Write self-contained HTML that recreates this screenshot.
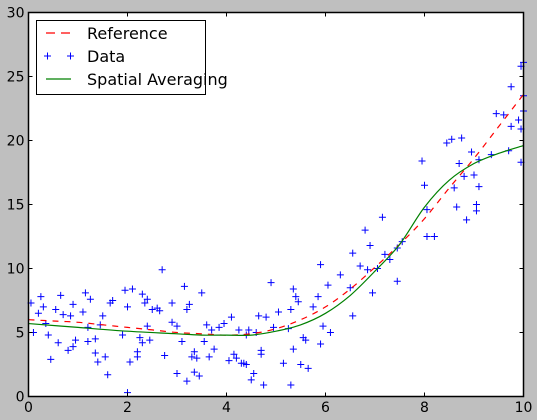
<!DOCTYPE html>
<html><head><meta charset="utf-8"><style>
body{margin:0;background:#bfbfbf;}
svg{display:block;font-family:"DejaVu Sans","Liberation Sans",sans-serif;}
</style></head><body>
<svg id="chart" width="537" height="420" viewBox="0 0 537 420"></svg>
<script>
const dataX=[0.05,0.1,0.2,0.25,0.3,0.35,0.4,0.45,0.55,0.6,0.65,0.7,0.8,0.85,0.9,0.9,0.95,1.1,1.15,1.2,1.2,1.25,1.35,1.35,1.4,1.45,1.5,1.55,1.6,1.65,1.7,1.9,1.95,2.0,2.05,2.0,2.1,2.2,2.2,2.25,2.3,2.3,2.35,2.4,2.4,2.45,2.5,2.6,2.65,2.75,2.7,2.9,2.9,3.0,3.0,3.1,3.15,3.2,3.2,3.25,3.3,3.35,3.35,3.4,3.45,3.5,3.55,3.6,3.65,3.7,3.75,3.85,3.95,4.05,4.1,4.15,4.2,4.25,4.3,4.35,4.4,4.4,4.45,4.5,4.55,4.6,4.65,4.7,4.7,4.75,4.8,4.9,4.95,5.05,5.15,5.25,5.3,5.35,5.3,5.35,5.4,5.45,5.5,5.55,5.6,5.65,5.75,5.85,5.9,5.9,5.95,6.05,6.1,6.3,6.5,6.55,6.55,6.7,6.8,6.85,6.9,6.95,7.05,7.15,7.2,7.3,7.45,7.45,7.55,7.95,8.0,8.05,8.05,8.2,8.45,8.55,8.6,8.65,8.7,8.75,8.8,8.85,8.95,9.05,9.05,9.1,9.1,9.0,9.35,9.45,9.6,9.7,9.75,9.75,9.9,9.95,10.0,9.95,9.95,10.0,10.0];
const dataY=[7.3,5.0,6.5,7.8,7.0,5.7,4.8,2.9,6.8,4.2,7.9,6.4,3.6,6.3,7.2,3.9,4.4,6.6,8.1,4.3,5.4,7.6,4.5,3.4,2.7,5.6,6.3,3.1,1.7,7.3,7.5,4.8,8.3,7.0,2.7,0.3,8.4,3.1,3.5,4.6,8.0,4.2,7.3,7.6,5.5,4.4,6.8,6.9,6.7,3.2,9.9,7.3,5.8,5.5,1.8,4.3,8.6,6.8,1.2,7.2,3.1,3.5,1.9,3.0,1.6,8.1,4.3,5.6,3.1,5.2,3.7,5.4,5.7,2.8,6.2,3.3,3.0,5.2,2.6,2.6,4.8,2.5,5.2,1.3,1.8,5.0,6.3,3.6,3.3,0.9,6.2,8.9,5.4,6.6,2.6,5.3,6.8,3.7,0.9,8.4,7.8,7.4,2.5,4.6,4.4,2.2,7.0,7.8,4.1,10.3,5.5,8.7,5.0,9.5,8.5,11.2,6.3,10.2,13.0,9.9,11.8,8.1,10.0,14.0,11.1,10.7,9.0,11.6,12.1,18.4,16.5,14.6,12.5,12.5,19.8,20.1,16.3,14.8,18.2,20.2,17.2,13.8,19.1,15.0,14.5,16.4,18.5,17.3,18.9,22.1,22.0,19.2,21.1,24.2,21.6,25.8,26.1,20.9,18.3,23.5,22.3];
const refX=[0,0.5,1,1.5,2,2.5,3,3.5,4,4.5,5,5.5,6,6.5,7,7.5,8,8.5,9,9.5,10];
const refY=[6.0,5.9,5.8,5.6,5.4,5.2,5.0,4.9,4.8,4.9,5.3,6.0,7.0,8.4,10.1,11.9,13.9,16.3,18.6,21.1,23.6];
const avgX=[0,1,2,3,3.5,4,4.5,5,5.5,6,6.5,7,7.5,8,8.5,9,9.5,10];
const avgY=[5.7,5.4,5.1,4.9,4.8,4.8,4.8,5.1,5.6,6.5,7.9,9.8,11.9,14.8,16.9,18.2,19.0,19.6];
const xTicks=[0,2,4,6,8,10];
const yTicks=[0,5,10,15,20,25,30];
const L=28.5,R=523.5,T=12.5,B=396.5;
const sx=v=>L+(R-L)*v/10, sy=v=>B-(B-T)*v/30;
const NS="http://www.w3.org/2000/svg";
const svg=document.getElementById('chart');
function mk(t,a,p){const e=document.createElementNS(NS,t);for(const k in a)e.setAttribute(k,a[k]);(p||svg).appendChild(e);return e;}
const bg=mk('rect',{x:L,y:T,width:R-L,height:B-T,fill:'#fff'});


const gd=mk('g',{stroke:'#0000ff','stroke-width':1});


for(let i=0;i<dataX.length;i++){const x=sx(dataX[i]),y=sy(dataY[i]);
const p=mk('path',{d:`M${x-3.5},${y}H${x+3.5}M${x},${y-3.5}V${y+3.5}`},gd);

}
function smooth(xs,ys){const P=xs.map((v,i)=>[sx(v),sy(ys[i])]);let d='M'+P[0][0]+','+P[0][1];
for(let i=0;i<P.length-1;i++){const p0=P[i-1]||P[i],p1=P[i],p2=P[i+1],p3=P[i+2]||P[i+1];
const c1=[p1[0]+(p2[0]-p0[0])/6,p1[1]+(p2[1]-p0[1])/6],c2=[p2[0]-(p3[0]-p1[0])/6,p2[1]-(p3[1]-p1[1])/6];
d+=`C${c1[0].toFixed(1)},${c1[1].toFixed(1)} ${c2[0].toFixed(1)},${c2[1].toFixed(1)} ${p2[0].toFixed(1)},${p2[1].toFixed(1)}`;}return d;}
function line(xs,ys,a,name){
const p=mk('path',Object.assign({d:smooth(xs,ys),fill:'none'},a));

}
line(refX,refY,{stroke:'#ff0000','stroke-width':1.2,'stroke-dasharray':'6,6'},'reference-line');
line(avgX,avgY,{stroke:'#008000','stroke-width':1.2},'spatial-averaging-line');
const fr=mk('rect',{x:L,y:T,width:R-L,height:B-T,fill:'none',stroke:'#000','stroke-width':1.5});


xTicks.forEach(v=>{const x=sx(v);
mk('path',{d:`M${x},${B}v-4M${x},${T}v4`,stroke:'#000'});
const t=mk('text',{x:x,y:412,'font-size':14,'text-anchor':'middle'});t.textContent=v;

});
yTicks.forEach(v=>{const y=sy(v);
mk('path',{d:`M${L},${y}h4M${R},${y}h-4`,stroke:'#000'});
const t=mk('text',{x:L-4,y:y+5,'font-size':14,'text-anchor':'end'});t.textContent=v;

});
const lg=mk('g',{});


mk('rect',{x:36.5,y:20.5,width:169,height:74,fill:'#fff',stroke:'#000'},lg);
mk('path',{d:'M46,33h9M61,33h9',stroke:'#ff0000','stroke-width':1.2},lg);
mk('path',{d:'M44,56h7M47.5,52.5v7M67,56h7M70.5,52.5v7',stroke:'#0000ff'},lg);
mk('path',{d:'M46,79h25',stroke:'#008000','stroke-width':1.2},lg);
[['Reference',39],['Data',62],['Spatial Averaging',85]].forEach(([s,y])=>{const t=mk('text',{x:87,y:y,'font-size':16},lg);t.textContent=s;

});
</script>
</body></html>
